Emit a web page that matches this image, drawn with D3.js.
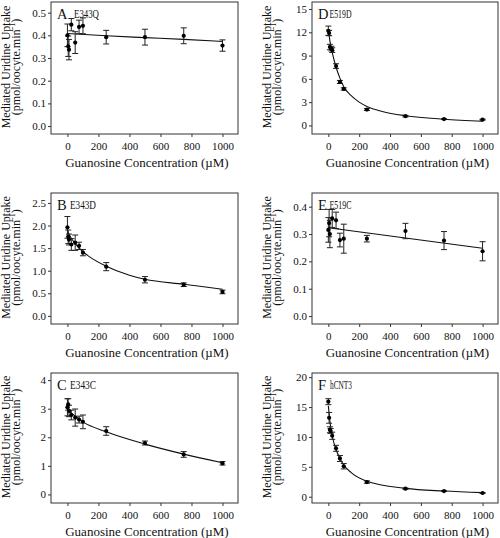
<!DOCTYPE html>
<html><head><meta charset="utf-8">
<script src="https://cdn.jsdelivr.net/npm/d3@7"></script>
<style>body{margin:0;background:#fff}svg{display:block}text{font-family:"Liberation Serif","Times New Roman",serif}</style>
</head><body><svg id="c" width="500" height="538"></svg>
<script>
// ---- data ----
const xTicks = [0, 200, 400, 600, 800, 1000];

const concA = [0, 5, 10, 25, 50, 75, 100, 250, 500, 750, 1000];
const uptakeA = [0.40, 0.352, 0.337, 0.447, 0.368, 0.437, 0.442, 0.392, 0.392, 0.398, 0.355];
const semA = [0.05, 0.045, 0.045, 0.027, 0.048, 0.03, 0.035, 0.03, 0.035, 0.035, 0.025];
const fitXA = [0, 250, 500, 750, 1000];
const fitYA = [0.408, 0.398, 0.390, 0.382, 0.373];

const concB = [0, 5, 10, 25, 50, 75, 100, 250, 500, 750, 1000];
const uptakeB = [1.96, 1.75, 1.69, 1.58, 1.62, 1.55, 1.40, 1.09, 0.80, 0.69, 0.53];
const semB = [0.24, 0.15, 0.12, 0.13, 0.17, 0.08, 0.07, 0.09, 0.07, 0.04, 0.04];
const fitXB = [0, 25, 50, 100, 150, 250, 400, 500, 750, 1000];
const fitYB = [1.88, 1.72, 1.60, 1.42, 1.29, 1.10, 0.90, 0.81, 0.70, 0.59];

const concC = [0, 5, 10, 25, 50, 75, 100, 250, 500, 750, 1000];
const uptakeC = [3.05, 3.15, 2.92, 2.78, 2.69, 2.62, 2.54, 2.22, 1.80, 1.40, 1.09];
const semC = [0.3, 0.2, 0.2, 0.17, 0.3, 0.12, 0.24, 0.15, 0.07, 0.1, 0.06];
const fitXC = [0, 50, 100, 250, 500, 750, 1000];
const fitYC = [2.95, 2.74, 2.54, 2.19, 1.76, 1.41, 1.11];

const concD = [0, 5, 10, 20, 25, 50, 75, 100, 250, 500, 750, 1000];
const uptakeD = [12.2, 11.9, 10.1, 9.9, 9.7, 7.65, 5.6, 4.7, 2.05, 1.2, 0.82, 0.75];
const semD = [0.6, 0.35, 0.35, 0.3, 0.3, 0.3, 0.2, 0.15, 0.12, 0.1, 0.06, 0.06];
const fitXD = [0, 10, 25, 50, 75, 100, 150, 200, 250, 350, 500, 750, 1000];
const fitYD = [12.4, 10.9, 9.4, 7.5, 6.1, 5.0, 3.8, 3.0, 2.45, 1.8, 1.25, 0.8, 0.55];

const concE = [0, 5, 10, 25, 50, 75, 100, 250, 500, 750, 1000];
const uptakeE = [0.315, 0.34, 0.30, 0.357, 0.35, 0.278, 0.283, 0.283, 0.311, 0.276, 0.237];
const semE = [0.045, 0.05, 0.05, 0.033, 0.03, 0.025, 0.053, 0.012, 0.028, 0.033, 0.035];
const fitXE = [0, 500, 1000];
const fitYE = [0.323, 0.2855, 0.248];

const concF = [0, 5, 10, 15, 25, 50, 75, 100, 250, 500, 750, 1000];
const uptakeF = [15.9, 13.2, 11.2, 11.0, 10.2, 8.1, 6.4, 5.1, 2.45, 1.35, 0.95, 0.62];
const semF = [0.5, 0.9, 0.5, 0.4, 0.6, 0.5, 0.5, 0.45, 0.2, 0.1, 0.08, 0.06];
const fitXF = [0, 10, 25, 50, 75, 100, 150, 250, 500, 750, 1000];
const fitYF = [15.2, 12.6, 10.2, 7.9, 6.4, 5.3, 4.0, 2.6, 1.4, 0.95, 0.68];

const panelLetters = ["A", "B", "C", "D", "E", "F"];
const panelNames = ["E343Q", "E343D", "E343C", "E519D", "E519C", "hCNT3"];
const yTicksA = [0, 0.1, 0.2, 0.3, 0.4, 0.5];
const yTicksB = [0, 0.5, 1.0, 1.5, 2.0, 2.5];
const yTicksC = [0, 1, 2, 3, 4];
const yTicksD = [0, 3, 6, 9, 12, 15];
const yTicksE = [0, 0.1, 0.2, 0.3, 0.4];
const yTicksF = [0, 5, 10, 15, 20];

// ---- layout ----
const FONT = '"Liberation Serif","Times New Roman",serif';
const cols = [[51, 238], [312, 498]];
const rows = [[2, 134], [193, 324], [373, 503]];
const panels = [
  {col:0,row:0,conc:concA,mean:uptakeA,sem:semA,fx:fitXA,fy:fitYA,ticks:yTicksA,fmt:".1f",dom:[-0.035,0.547],nameDx:23,nameW:25},
  {col:0,row:1,conc:concB,mean:uptakeB,sem:semB,fx:fitXB,fy:fitYB,ticks:yTicksB,fmt:".1f",dom:[-0.18,2.72],nameDx:19,nameW:26},
  {col:0,row:2,conc:concC,mean:uptakeC,sem:semC,fx:fitXC,fy:fitYC,ticks:yTicksC,fmt:"d",dom:[-0.3,4.25],nameDx:19,nameW:26},
  {col:1,row:0,conc:concD,mean:uptakeD,sem:semD,fx:fitXD,fy:fitYD,ticks:yTicksD,fmt:"d",dom:[-1.1,15.9],nameDx:17.5,nameW:22},
  {col:1,row:1,conc:concE,mean:uptakeE,sem:semE,fx:fitXE,fy:fitYE,ticks:yTicksE,fmt:".1f",dom:[-0.029,0.45],nameDx:17.5,nameW:22},
  {col:1,row:2,conc:concF,mean:uptakeF,sem:semF,fx:fitXF,fy:fitYF,ticks:yTicksF,fmt:"d",dom:[-1.05,20.7],nameDx:18,nameW:22}
];

const svg = d3.select("#c");
svg.append("rect").attr("width", 500).attr("height", 538).attr("fill", "#fff");

panels.forEach((p, i) => {
  const [x0, x1] = cols[p.col];
  const [y0, y1] = rows[p.row];
  const x = d3.scaleLinear().domain([-106, 1100]).range([x0, x1]);
  const y = d3.scaleLinear().domain(p.dom).range([y1, y0]);
  const g = svg.append("g");

  const xa = g.append("g").attr("transform", `translate(0,${y1})`)
    .call(d3.axisBottom(x).tickValues(xTicks).tickFormat(d3.format("d")).tickSize(3).tickPadding(5).tickSizeOuter(0));
  const ya = g.append("g").attr("transform", `translate(${x0},0)`)
    .call(d3.axisLeft(y).tickValues(p.ticks).tickFormat(d3.format(p.fmt)).tickSize(3).tickPadding(2).tickSizeOuter(0));
  [xa, ya].forEach(a => {
    a.select(".domain").remove();
    a.attr("font-family", FONT).attr("font-size", 11);
    a.selectAll("text").attr("font-size", 11).attr("fill", "#111").attr("font-family", FONT);
    a.selectAll("line").attr("stroke", "#333");
  });

  g.append("rect").attr("x", x0).attr("y", y0).attr("width", x1 - x0).attr("height", y1 - y0)
    .attr("fill", "none").attr("stroke", "#333").attr("stroke-width", 1);

  // fit curve
  const fit = p.fx.map((v, k) => [v, p.fy[k]]);
  g.append("path").datum(fit)
    .attr("d", d3.line().x(d => x(d[0])).y(d => y(d[1])).curve(d3.curveMonotoneX))
    .attr("fill", "none").attr("stroke", "#111").attr("stroke-width", 1.1);

  // error bars
  const pts = p.conc.map((c, k) => ({c, m: p.mean[k], s: p.sem[k]}));
  const eb = g.append("g").attr("stroke", "#222").attr("stroke-width", 1);
  pts.forEach(d => {
    const cx = x(d.c), yt = y(d.m + d.s), yb = y(d.m - d.s);
    eb.append("line").attr("x1", cx).attr("x2", cx).attr("y1", yt).attr("y2", yb);
    eb.append("line").attr("x1", cx - 3).attr("x2", cx + 3).attr("y1", yt).attr("y2", yt);
    eb.append("line").attr("x1", cx - 3).attr("x2", cx + 3).attr("y1", yb).attr("y2", yb);
  });
  g.append("g").selectAll("circle").data(pts).join("circle")
    .attr("cx", d => x(d.c)).attr("cy", d => y(d.m)).attr("r", 2.1).attr("fill", "#000");

  // panel labels
  g.append("text").attr("x", x0 + 6).attr("y", y0 + 16.5).attr("font-size", 14.5).attr("font-family", FONT)
    .attr("fill", "#111").text(panelLetters[i]);
  g.append("text").attr("x", x0 + p.nameDx).attr("y", y0 + 16).attr("font-size", 12.5).attr("font-family", FONT)
    .attr("fill", "#111").attr("textLength", p.nameW).attr("lengthAdjust", "spacingAndGlyphs").text(panelNames[i]);

  // axis titles
  g.append("text").attr("x", x(500) + 2).attr("y", y1 + 32.5).attr("text-anchor", "middle")
    .attr("font-size", 13).attr("font-family", FONT).attr("fill", "#111").text("Guanosine Concentration (\u00B5M)");
  const cy = (y0 + y1) / 2 - 1;
  g.append("text").attr("transform", `translate(${x0 - 41.5},${cy}) rotate(-90)`).attr("text-anchor", "middle")
    .attr("font-size", 12).attr("font-family", FONT).attr("fill", "#111").text("Mediated Uridine Uptake");
  const t2 = g.append("text").attr("transform", `translate(${x0 - 31},${cy}) rotate(-90)`).attr("text-anchor", "middle")
    .attr("font-size", 12).attr("font-family", FONT).attr("fill", "#111");
  t2.append("tspan").text("(pmol/oocyte.min");
  t2.append("tspan").attr("font-size", 8).attr("dy", -5).text("-1");
  t2.append("tspan").attr("dy", 5).text(")");
});
</script></body></html>
